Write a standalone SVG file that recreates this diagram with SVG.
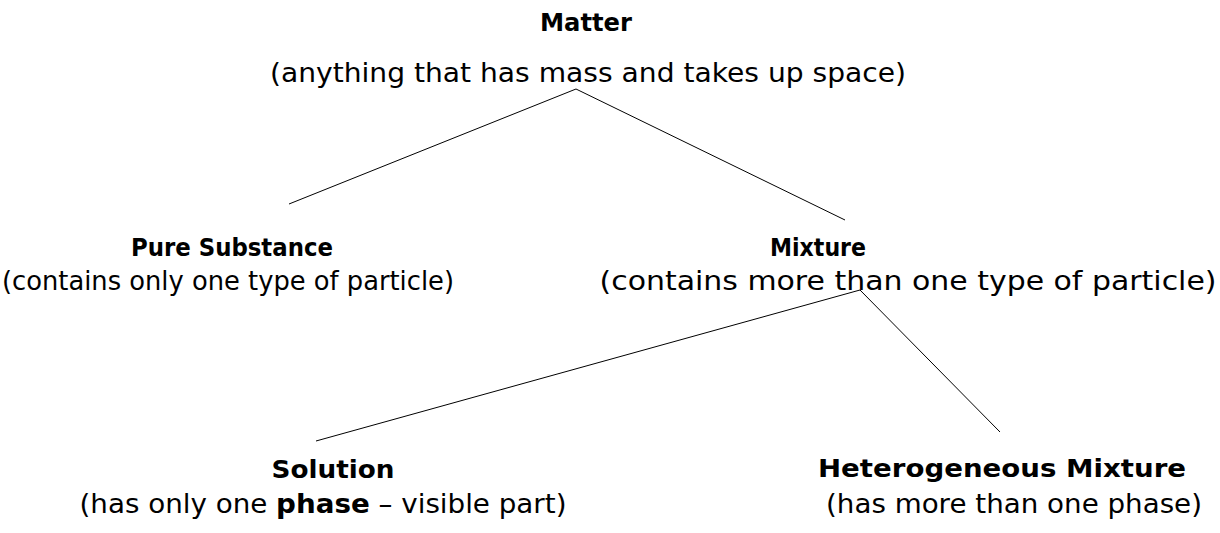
<svg xmlns="http://www.w3.org/2000/svg" width="1220" height="533" viewBox="0 0 1220 533">
<style>
.t{font-family:"Comic Sans MS","DejaVu Sans","Liberation Sans",sans-serif;fill:#000;text-anchor:middle}
.h{font-size:25px;font-weight:bold}
.d{font-size:26px}
.b{font-weight:bold}
.c{stroke:#000;stroke-width:1;fill:none}
</style>
<rect width="1220" height="533" fill="#fff"/>
<g id="connectors">
<line class="c" x1="576" y1="89" x2="289" y2="204"/>
<line class="c" x1="576" y1="89" x2="845" y2="220"/>
<line class="c" x1="860" y1="290" x2="316" y2="441"/>
<line class="c" x1="860" y1="290" x2="1000" y2="432"/>
</g>
<g id="matter">
<text class="t h" x="586" y="31" textLength="92" lengthAdjust="spacingAndGlyphs">Matter</text>
<text class="t d" x="588" y="82" textLength="636" lengthAdjust="spacingAndGlyphs">(anything that has mass and takes up space)</text>
</g>
<g id="pure-substance">
<text class="t h" x="232" y="256" textLength="202" lengthAdjust="spacingAndGlyphs">Pure Substance</text>
<text class="t d" x="228" y="290" textLength="452" lengthAdjust="spacingAndGlyphs">(contains only one type of particle)</text>
</g>
<g id="mixture">
<text class="t h" x="818" y="256" textLength="96" lengthAdjust="spacingAndGlyphs">Mixture</text>
<text class="t d" x="908" y="290" textLength="617" lengthAdjust="spacingAndGlyphs">(contains more than one type of particle)</text>
</g>
<g id="solution">
<text class="t h" x="333" y="478" textLength="123" lengthAdjust="spacingAndGlyphs">Solution</text>
<text class="t d" x="323" y="513" textLength="487" lengthAdjust="spacingAndGlyphs">(has only one <tspan class="b">phase</tspan> – visible part)</text>
</g>
<g id="heterogeneous-mixture">
<text class="t h" x="1002" y="477" textLength="368" lengthAdjust="spacingAndGlyphs">Heterogeneous Mixture</text>
<text class="t d" x="1014" y="513" textLength="376" lengthAdjust="spacingAndGlyphs">(has more than one phase)</text>
</g>
</svg>
